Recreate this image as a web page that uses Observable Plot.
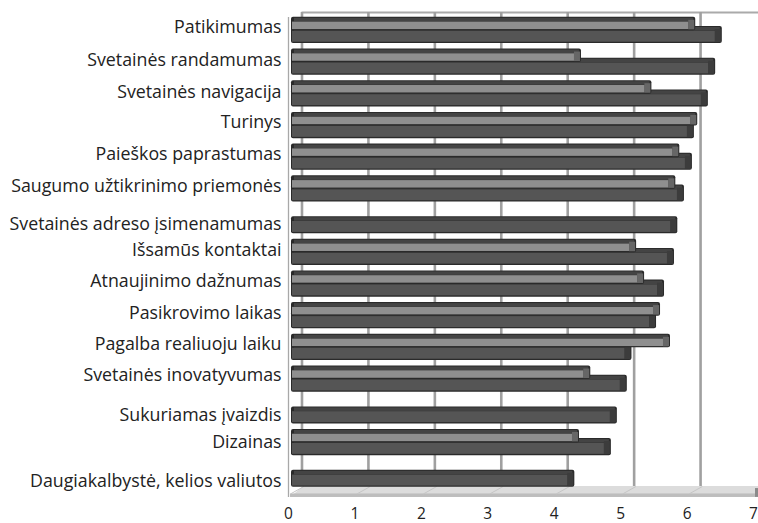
<!DOCTYPE html>
<html><head><meta charset="utf-8">
<script src="https://cdn.jsdelivr.net/npm/d3@7"></script>
<script src="https://cdn.jsdelivr.net/npm/@observablehq/plot@0.6"></script>
<style>html,body{margin:0;padding:0;background:#fff}svg{display:block}</style>
</head><body><div id="c"></div>
<script>
const categories = ["Patikimumas","Svetainės randamumas","Svetainės navigacija","Turinys","Paieškos paprastumas","Saugumo užtikrinimo priemonės","Svetainės adreso įsimenamumas","Išsamūs kontaktai","Atnaujinimo dažnumas","Pasikrovimo laikas","Pagalba realiuoju laiku","Svetainės inovatyvumas","Sukuriamas įvaizdis","Dizainas","Daugiakalbystė, kelios valiutos"];
const lightValues = [6.01,4.29,5.35,6.04,5.77,5.71,null,5.12,5.24,5.48,5.63,4.43,null,4.26,null];
const darkValues  = [6.41,6.31,6.20,5.99,5.96,5.84,5.74,5.69,5.54,5.42,5.05,4.98,4.83,4.74,4.19];
const xTicks = [0,1,2,3,4,5,6,7];

const rows = categories.map((name,i)=>({name,i,light:lightValues[i],dark:darkValues[i]}));
const lightRows = rows.filter(d=>d.light!=null);
const rowPx = 31.7;
const labelNudgePx = [-3,-1.5,-2,-3,-3,-3,4,-2,-3,-3,-3,-3.5,4,0,7];

const barMarks = (data, val, y1, y2, faceFill, capFill) => [
  Plot.rect(data,{x1:0,x2:val,y1,y2,fill:"#2a2a2a",insetTop:-4,insetBottom:-1,insetRight:-6,insetLeft:1,rx:2}),
  Plot.rect(data,{x1:0,x2:val,y1,y2:y1,fill:"#444",insetTop:-3,insetBottom:-0.5,insetLeft:4,insetRight:-4}),
  Plot.rect(data,{x1:val,x2:val,y1,y2,fill:capFill,insetTop:-1,insetBottom:0,insetLeft:-1,insetRight:-5}),
  Plot.rect(data,{x1:0,x2:val,y1,y2,fill:faceFill,insetLeft:2,insetTop:0.8,insetBottom:0.3,insetRight:1})
];

const chart = Plot.plot({
  width:758,height:523,
  marginLeft:290,marginRight:3,marginTop:30,marginBottom:49.2,
  x:{domain:[0,7],axis:null},
  y:{domain:[14,0],axis:null},
  style:{background:"#fff",overflow:"hidden"},
  marks:[
    Plot.ruleY([-18/rowPx],{x1:0,x2:7.3,dx:11.5,stroke:"#aaa",strokeWidth:2}),
    Plot.ruleX(xTicks.slice(0,7),{y1:-18/rowPx,y2:14.385,dx:11.5,stroke:"#a0a0a0",strokeWidth:2.6}),
    Plot.areaY([{x:0,a:14.73,b:14.73},{x:0.2,a:14.73,b:14.385},{x:7,a:14.73,b:14.385},{x:7.2,a:14.385,b:14.385}],
      {x:"x",y1:"a",y2:"b",fill:"#dcdcdc",curve:"linear"}),
    Plot.rect([0],{x1:0,x2:7,y1:14.62,y2:14.73,fill:"#bdbdbd"}),
    Plot.rect([0],{x1:7,x2:7.05,y1:14.45,y2:14.73,fill:"#8a8a8a"}),
    Plot.link(xTicks.slice(0,7),{x1:d=>d,x2:d=>d+0.2,y1:14.62,y2:14.385,stroke:"#c6c6c6",strokeWidth:1}),
    Plot.ruleX([0],{y1:-13/rowPx,y2:14.73,dx:-2,stroke:"#a8a8a8",strokeWidth:1.3}),
    ...barMarks(rows,"dark",d=>d.i,d=>d.i+0.38,"#555","#3c3c3c"),
    ...barMarks(lightRows,"light",d=>d.i-0.29,d=>d.i-0.02,"#8f8f8f","#666"),
    Plot.text(rows,{x:0,y:d=>d.i+labelNudgePx[d.i]/rowPx,text:"name",textAnchor:"end",dx:-9,fontSize:17.8,fontFamily:"'Open Sans'",fill:"#222"}),
    Plot.axisX(xTicks,{anchor:"bottom",tickSize:0,tickPadding:0,dy:34,dx:-2,fontSize:15.5,fontFamily:"'Open Sans'",fill:"#222",tickFormat:d=>d,label:null})
  ]
});
document.getElementById("c").append(chart);
</script></body></html>
